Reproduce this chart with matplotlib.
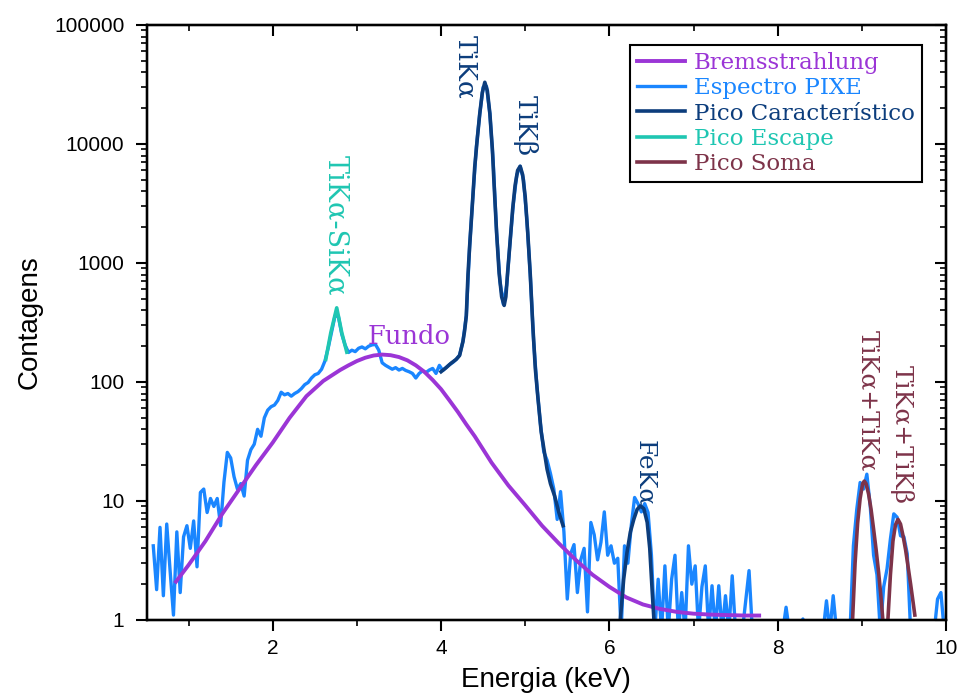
import numpy as np
import matplotlib
matplotlib.use('Agg')
import matplotlib.pyplot as plt
from matplotlib.ticker import FixedLocator, LogLocator, NullFormatter

# espectro PIXE, passo de 0.04 keV a partir de 0.58 keV
e_start = 0.58
e_step = 0.04
counts = [
    4.2, 1.8, 6.0, 1.6, 6.4, 2.6, 1.1, 5.5, 1.7, 5.0,
    6.2, 4.0, 6.8, 2.8, 11.8, 12.6, 8.0, 10.5, 9.0, 10.5,
    6.2, 14.4, 25.6, 23, 16, 12.6, 14, 11, 22, 27,
    30, 40, 35, 50, 58, 62, 64, 70, 82, 78,
    80, 76, 80, 83, 88, 95, 99, 108, 115, 118,
    128, 150, 195, 265, 360, 355, 252, 204, 177, 185,
    180, 192, 197, 190, 200, 205, 207, 185, 145, 138,
    133, 128, 132, 126, 130, 125, 122, 118, 108, 118,
    124, 120, 126, 130, 118, 138, 125, 132, 140, 146,
    155, 168, 219, 360, 1400, 3800, 9500, 18000, 30000, 30500,
    18000, 7000, 1800, 700, 450, 650, 1500, 3200, 5500, 6500,
    5000, 2300, 800, 220, 90, 45, 26, 22, 17, 12.6,
    7.0, 12, 5.5, 1.5, 3.6, 4.3, 1.7, 3.2, 4.0, 1.17,
    6.6, 5.2, 3.2, 4.5, 8.1, 3.5, 4.2, 3.0, 3.3, 0.8,
    4.2, 3.0, 6.2, 10.7, 9.5, 8.1, 9.5, 8.0, 3.5, 0.8,
    2.2, 0.8, 2.85, 0.8, 2.2, 3.5, 0.8, 1.7, 0.8, 4.2,
    2.0, 2.85, 0.8, 1.9, 2.85, 0.8, 1.94, 0.8, 1.94, 0.8,
    1.6, 0.8, 2.35, 0.8, 0.8, 0.8, 1.45, 2.6, 0.8, 0.8,
    0.8, 0.8, 0.8, 0.8, 0.8, 0.8, 0.8, 0.8, 1.28, 0.8,
    0.8, 0.8, 0.8, 1.02, 0.8, 0.8, 0.8, 0.8, 0.8, 0.8,
    1.45, 0.8, 1.6, 0.8, 0.8, 0.8, 0.8, 0.8, 4.2, 8.5,
    14.3, 12.6, 16.8, 9.1, 3.5, 2.4, 0.8, 1.9, 2.7, 4.8,
    7.8, 7.3, 5.1, 5.0, 3.6, 0.8, 0.8, 0.8, 0.8, 0.8,
    0.8, 0.8, 0.8, 1.5, 1.7, 0.8,
]
energy = np.round(e_start + e_step * np.arange(len(counts)), 2)

# fundo (Bremsstrahlung)
brems_e = [0.85, 1.0, 1.2, 1.4, 1.6, 1.8, 2.0, 2.2, 2.4, 2.6, 2.8, 2.9, 3.0, 3.1,
           3.2, 3.3, 3.4, 3.5, 3.6, 3.7, 3.8, 3.9, 4.0, 4.1, 4.2, 4.3, 4.4, 4.6,
           4.8, 5.0, 5.2, 5.4, 5.6, 5.8, 6.0, 6.2, 6.4, 6.6, 6.8, 7.0, 7.2, 7.4,
           7.6, 7.78]
brems_c = [2.1, 2.9, 4.6, 7.8, 12.5, 20, 31, 50, 76, 102, 126, 138, 150, 160,
           167, 170, 168, 162, 152, 138, 122, 104, 87, 70, 56, 44, 35, 21,
           13.5, 9.2, 6.2, 4.4, 3.2, 2.4, 1.9, 1.55, 1.35, 1.24, 1.17, 1.13, 1.11, 1.1,
           1.09, 1.09]

# picos caracteristicos TiKa / TiKb
ti_e = [4.00, 4.06, 4.12, 4.18, 4.22, 4.26, 4.28, 4.30, 4.32, 4.34, 4.36, 4.38,
        4.40, 4.43, 4.46, 4.49, 4.52, 4.55, 4.58, 4.61, 4.63, 4.66, 4.69, 4.72,
        4.75, 4.77, 4.79, 4.82, 4.85, 4.88, 4.91, 4.94, 4.97, 5.00, 5.03, 5.06,
        5.09, 5.12, 5.15, 5.19, 5.21, 5.26, 5.30, 5.35, 5.40, 5.45]
ti_c = [122, 132, 144, 155, 167, 219, 270, 360, 800, 1400, 2300, 3800,
        6400, 11000, 18000, 27000, 33000, 28000, 18000, 9000, 4600, 1800, 820, 520,
        440, 520, 816, 1500, 2800, 4500, 6000, 6500, 5500, 3600, 1800, 800,
        300, 130, 75, 38, 31, 18.5, 14, 11, 8, 6.2]

# pico FeKa
fe_e = [6.13, 6.17, 6.21, 6.25, 6.29, 6.33, 6.37, 6.41, 6.45, 6.48, 6.51, 6.53]
fe_c = [1.0, 2.2, 3.7, 5.5, 7.0, 8.5, 9.1, 8.6, 6.6, 4.0, 1.7, 1.0]

# pico de escape
esc_e = [2.63, 2.69, 2.76, 2.82, 2.88]
esc_c = [155, 260, 420, 260, 178]

# picos soma
soma1_e = [8.89, 8.92, 8.95, 8.98, 9.01, 9.03, 9.05, 9.08, 9.11, 9.14, 9.17, 9.20, 9.23, 9.25]
soma1_c = [1.0, 3.0, 6.5, 10.5, 14.0, 14.7, 14.0, 11.5, 8.5, 5.8, 3.9, 2.5, 1.5, 1.0]
soma2_e = [9.31, 9.34, 9.37, 9.40, 9.43, 9.46, 9.49, 9.52, 9.55, 9.58, 9.61, 9.63]
soma2_c = [1.0, 2.4, 4.6, 6.3, 7.0, 6.4, 5.1, 3.9, 2.8, 2.0, 1.4, 1.1]

c_brems = '#9b35d6'
c_pixe = '#1a86ff'
c_carac = '#0c3d7c'
c_esc = '#1fc6b2'
c_soma = '#7d3349'

serif = 'DejaVu Serif'
sans = 'Liberation Sans'

fig = plt.figure(figsize=(9.59, 7.0), dpi=100)
ax = fig.add_axes([0.1528, 0.1143, 0.8336, 0.8500])

l_pixe, = ax.plot(energy, counts, color=c_pixe, lw=2.4, label='Espectro PIXE', zorder=2)
l_brems, = ax.plot(brems_e, brems_c, color=c_brems, lw=2.8, label='Bremsstrahlung', zorder=3)
l_carac, = ax.plot(ti_e, ti_c, color=c_carac, lw=2.6, label='Pico Característico', zorder=4)
ax.plot(fe_e, fe_c, color=c_carac, lw=2.6, zorder=4)
l_esc, = ax.plot(esc_e, esc_c, color=c_esc, lw=2.6, label='Pico Escape', zorder=4)
l_soma, = ax.plot(soma1_e, soma1_c, color=c_soma, lw=2.6, label='Pico Soma', zorder=4)
ax.plot(soma2_e, soma2_c, color=c_soma, lw=2.6, zorder=4)

ax.set_yscale('log')
ax.set_xlim(0.5, 10)
ax.set_ylim(1, 100000)

yt = [1, 10, 100, 1000, 10000, 100000]
ax.yaxis.set_major_locator(FixedLocator(yt))
ax.set_yticklabels([str(v) for v in yt])
ax.yaxis.set_minor_locator(LogLocator(base=10, subs=np.arange(2, 10)))
ax.yaxis.set_minor_formatter(NullFormatter())
ax.xaxis.set_major_locator(FixedLocator([2, 4, 6, 8, 10]))
ax.xaxis.set_minor_locator(FixedLocator([1, 3, 5, 7, 9]))

ax.tick_params(which='major', direction='out', length=8, width=1.5, labelsize=15)
ax.tick_params(axis='y', which='major', pad=8)
ax.tick_params(axis='x', which='major', pad=6)
ax.tick_params(which='minor', direction='out', length=4, width=1.2)
for lab in ax.get_xticklabels() + ax.get_yticklabels():
    lab.set_fontfamily(sans)
for s in ax.spines.values():
    s.set_linewidth(1.6)

# eixos de cima e da direita com ticks para dentro
axr = ax.twinx()
axr.set_yscale('log')
axr.set_ylim(1, 100000)
axr.yaxis.set_major_locator(FixedLocator(yt))
axr.yaxis.set_minor_locator(LogLocator(base=10, subs=np.arange(2, 10)))
axr.tick_params(which='major', direction='in', length=8, width=1.5, labelright=False)
axr.tick_params(which='minor', direction='in', length=4, width=1.2)
axt = ax.twiny()
axt.set_xlim(0.5, 10)
axt.xaxis.set_major_locator(FixedLocator([2, 4, 6, 8, 10]))
axt.xaxis.set_minor_locator(FixedLocator([1, 3, 5, 7, 9]))
axt.tick_params(which='major', direction='in', length=8, width=1.5, labeltop=False)
axt.tick_params(which='minor', direction='in', length=4, width=1.2)
for a in (axr, axt):
    for s in a.spines.values():
        s.set_linewidth(1.6)

ax.set_xlabel('Energia (keV)', fontsize=20, fontfamily=sans, labelpad=6)
ax.set_ylabel('Contagens', fontsize=20, fontfamily=sans, labelpad=8)

# rotulos dos picos
ann = dict(rotation=-90, ha='center', va='top', fontfamily=serif, zorder=5)
ax.text(2.75, 8090, 'TiKα-SiKα', color=c_esc, fontsize=19.5, **ann)
ax.text(4.29, 82400, 'TiKα', color=c_carac, fontsize=19, **ann)
ax.text(5.00, 25800, 'TiKβ', color=c_carac, fontsize=19, **ann)
ax.text(6.42, 32.6, 'FeKα', color=c_carac, fontsize=18, **ann)
ax.text(9.07, 273, 'TiKα+TiKα', color=c_soma, fontsize=18, **ann)
ax.text(9.48, 139, 'TiKα+TiKβ', color=c_soma, fontsize=18, **ann)
ax.text(3.62, 243, 'Fundo', color=c_brems, ha='center', va='center',
        fontsize=18.5, fontfamily=serif, zorder=5)

leg = ax.legend(handles=[l_brems, l_pixe, l_carac, l_esc, l_soma],
                loc='upper right', bbox_to_anchor=(0.970, 0.966), borderaxespad=0,
                prop={'family': serif, 'size': 16.5}, labelcolor='linecolor',
                fancybox=False, framealpha=1, edgecolor='black',
                handlelength=2.1, handletextpad=0.4, labelspacing=0.14,
                borderpad=0.3)
leg.get_frame().set_linewidth(1.5)
leg.set_zorder(10)

fig.savefig('out.png', dpi=100)
